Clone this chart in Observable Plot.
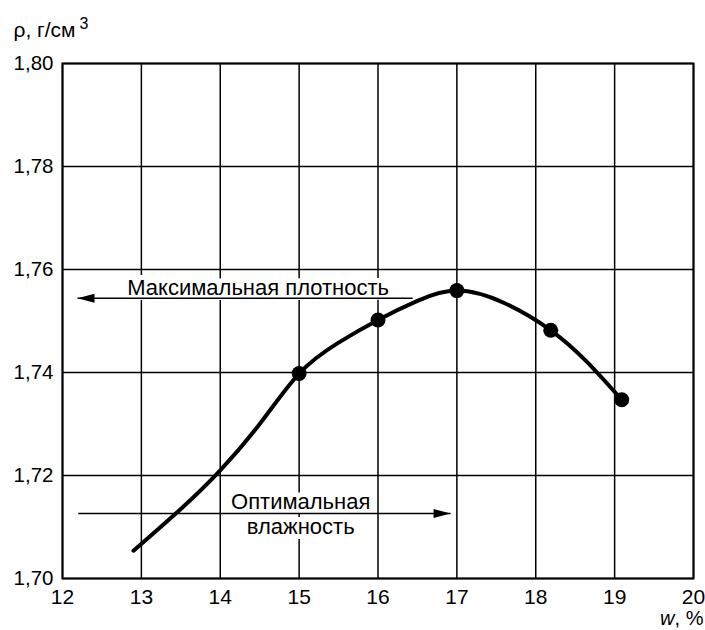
<!DOCTYPE html>
<html>
<head>
<meta charset="utf-8">
<script src="https://cdn.jsdelivr.net/npm/d3@7"></script>
<script src="https://cdn.jsdelivr.net/npm/@observablehq/plot@0.6"></script>
<style>
  html, body { margin: 0; padding: 0; background: #fff; }
</style>
</head>
<body>
<div id="chart"></div>
<script>
// ---- data ----
const xTicks = [12, 13, 14, 15, 16, 17, 18, 19, 20];
const yTicks = [1.70, 1.72, 1.74, 1.76, 1.78, 1.80];

// measured points (w, %; rho, g/cm3)
const pointW = [15, 16, 17, 18.19, 19.09];
const pointRho = [1.7398, 1.7502, 1.7559, 1.7482, 1.7347];

// smooth compaction curve
const curveW = [12.9, 13.5, 14, 14.51, 15, 15.49, 16, 16.5, 17, 17.6, 18.19, 18.64, 19.09];
const curveRho = [1.7054, 1.7135, 1.7210, 1.7302, 1.7398, 1.7457, 1.7502, 1.7539, 1.7559, 1.7535, 1.7482, 1.7422, 1.7347];

// annotations
const labelText = ["Максимальная плотность", "Оптимальная\nвлажность"];
const labelW = [14.48, 15.02];
const labelRho = [1.7567, 1.7127];
const arrowFromW = [16.44, 12.2];
const arrowToW = [12.19, 16.92];
const arrowRho = [1.7544, 1.7126];
const arrowDir = [180, 0];

// ---- tables ----
const points = pointW.map((w, i) => ({w, rho: pointRho[i]}));
const curve = curveW.map((w, i) => ({w, rho: curveRho[i]}));
const labels = labelText.map((t, i) => ({t, w: labelW[i], rho: labelRho[i]}));
const arrows = arrowFromW.map((w1, i) => ({w1, w2: arrowToW[i], rho: arrowRho[i], rot: arrowDir[i]}));

const headSymbol = {
  draw(ctx) {
    ctx.moveTo(0, 0);
    ctx.lineTo(-17, -4.5);
    ctx.lineTo(-17, 4.5);
    ctx.closePath();
  }
};

const font = "'Liberation Sans', Arial, Helvetica, sans-serif";
const fmt = d => d.toFixed(2).replace(".", ",");

const chart = Plot.plot({
  width: 705,
  height: 630,
  marginLeft: 62,
  marginRight: 12,
  marginTop: 63,
  marginBottom: 52,
  style: {fontFamily: font, fontSize: "20px", color: "black", background: "white"},
  x: {domain: [12, 20]},
  y: {domain: [1.70, 1.80]},
  marks: [
    Plot.gridX(xTicks, {stroke: "black", strokeOpacity: 1, strokeWidth: 1.5}),
    Plot.gridY(yTicks, {stroke: "black", strokeOpacity: 1, strokeWidth: 1.5}),
    Plot.frame({stroke: "black", strokeWidth: 2}),
    Plot.axisX(xTicks, {tickSize: 0, tickPadding: 11, fontSize: 21, label: null, tickFormat: d => String(d)}),
    Plot.axisY(yTicks, {tickSize: 0, tickPadding: 9, fontSize: 20.5, label: null, tickFormat: fmt}),
    Plot.text(labels, {x: "w", y: "rho", text: "t", fontSize: 22, lineHeight: 1.14,
      fill: "black", stroke: "white", strokeWidth: 10, textAnchor: "middle"}),
    Plot.link(arrows, {x1: "w1", x2: "w2", y1: "rho", y2: "rho", stroke: "black", strokeWidth: 1.5}),
    Plot.dot(arrows, {x: "w2", y: "rho", symbol: headSymbol, r: 3, fill: "black", stroke: "none", rotate: "rot"}),
    Plot.line(curve, {x: "w", y: "rho", curve: "natural", stroke: "black", strokeWidth: 4}),
    Plot.dot(points, {x: "w", y: "rho", r: 7.5, fill: "black"}),
    // axis titles
    Plot.text(["ρ, г/см"], {frameAnchor: "top-left", textAnchor: "start", lineAnchor: "middle", dx: -49, dy: -33, fontSize: 21, fill: "black"}),
    Plot.text(["3"], {frameAnchor: "top-left", textAnchor: "start", lineAnchor: "middle", dx: 17, dy: -40, fontSize: 16, fill: "black"}),
    Plot.text([", %"], {frameAnchor: "bottom-right", textAnchor: "end", lineAnchor: "middle", dx: 10, dy: 40, fontSize: 20, fill: "black"}),
    Plot.text(["w"], {frameAnchor: "bottom-right", textAnchor: "end", lineAnchor: "middle", dx: -19, dy: 40, fontSize: 20, fontStyle: "italic", fill: "black"})
  ]
});
document.getElementById("chart").appendChild(chart);
</script>
</body>
</html>
